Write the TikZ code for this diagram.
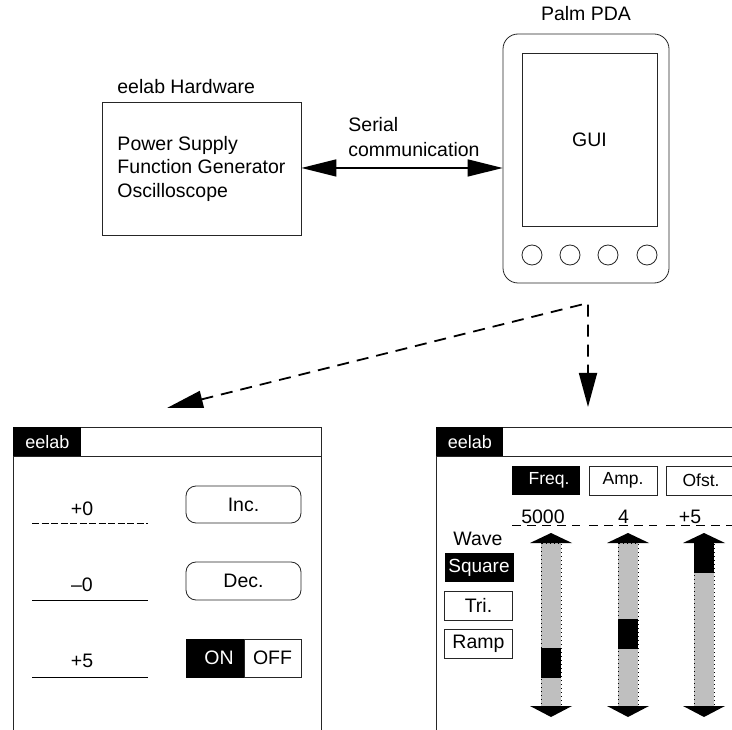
\documentclass[tikz,border=0pt]{standalone}
\usepackage{fontspec}
\setmainfont{Liberation Sans}
\usetikzlibrary{arrows.meta}
\begin{document}
\begin{tikzpicture}[x=1pt,y=-1pt, line width=0.8pt,
  ln/.style={draw=black!85, line width=0.8pt},
  txt/.style={font=\fontsize{19.5}{25}\selectfont, inner sep=0pt},
  box/.style={ln, inner sep=0pt, font=\fontsize{19.5}{23.5}\selectfont},
  blackbox/.style={fill=black, text=white, inner sep=0pt},
  tabfont/.style={font=\fontsize{17.5}{20}\selectfont},
  bigtip/.style={line width=1.6pt, {Triangle[length=35pt,width=17pt]}-{Triangle[length=35pt,width=17pt]}},
  dashtip/.style={line width=1.8pt, dash pattern=on 12pt off 8pt, {Triangle[length=36pt,width=17pt]}-{Triangle[length=34pt,width=18pt]}},
  valline/.style={line width=0.8pt, dash pattern=on 9pt off 6pt}
]
\clip (0,0) rectangle (732,730);
\fill[white] (0,0) rectangle (732,730);

% ---------- top: hardware and PDA ----------
\node[txt, anchor=west] (hwlbl) at (117,87) {eelab Hardware};
\node[box, minimum width=199pt, minimum height=133pt, align=left] (hw) at (201.5,168.5)
  {Power Supply\\Function Generator\\Oscilloscope};

\node[txt] (pdalbl) at (586,14) {Palm PDA};
\node[ln, rounded corners=15pt, minimum width=166pt, minimum height=249pt, inner sep=0pt] (pda) at (586,158.5) {};
\node[box, minimum width=135pt, minimum height=173pt] (gui) at (589.5,139.5) {GUI};
\foreach \i/\x in {1/532,2/570,3/608,4/647}
  \node[ln, circle, minimum size=20pt, inner sep=0pt] (btn\i) at (\x,255) {};

\draw[bigtip] (hw.east |- 0,168) coordinate (sL) -- (pda.west |- 0,168) coordinate (sR);
\node[txt, anchor=west, align=left] (serlbl) at (348,137.5) {Serial\\communication};

% ---------- dashed arrows ----------
\coordinate (split) at (588,303);
\coordinate (toL) at (167,408);
\coordinate (toR) at (588,407);
\draw[dashtip] (toL) -- (split) -- (toR);

% ---------- left panel ----------
\draw[ln] (13,730) -- (13,427) -- (321,427) -- (321,730);
\draw[ln] (13,456) -- (321,456);
\node[blackbox, minimum width=68pt, minimum height=29pt, anchor=north west, font=\fontsize{18}{20}\selectfont] (ttlL) at (13,427) {eelab};

\node[txt] (v1) at (82,509) {+0};
\draw[line width=0.8pt, dash pattern=on 7pt off 2.5pt] (32,523) -- (148,523);
\node[txt] (v2) at (82,585) {\textendash0};
\draw[line width=0.8pt] (32,600) -- (148,600);
\node[txt] (v3) at (82,661) {+5};
\draw[line width=0.8pt] (32,677) -- (148,677);

\node[box, rounded corners=10pt, minimum width=115pt, minimum height=37pt] (inc) at (243.5,504.5) {Inc.};
\node[box, rounded corners=10pt, minimum width=115pt, minimum height=38pt] (dec) at (243.5,581) {Dec.};
\node[blackbox, draw=black, minimum width=58pt, minimum height=38pt, font=\fontsize{19.5}{22}\selectfont] (on) at (215,658) {\hspace{8pt}ON};
\node[box, minimum width=57pt, minimum height=38pt] (off) at (272.5,658) {OFF};

% ---------- right panel ----------
\draw[ln] (436,730) -- (436,427) -- (740,427);
\draw[ln] (436,456) -- (740,456);
\node[blackbox, minimum width=67pt, minimum height=29pt, anchor=north west, font=\fontsize{18}{20}\selectfont] (ttlR) at (436,427) {eelab};

\node[blackbox, tabfont, minimum width=68pt, minimum height=29pt] (freq) at (546,480.5) {\hspace{6pt}Freq.};
\node[box, tabfont, minimum width=68pt, minimum height=29pt] (amp) at (623,480.5) {Amp.};
\node[box, tabfont, minimum width=70pt, minimum height=29pt] (ofst) at (701,480.5) {Ofst.};

\draw[valline] (512,525) -- (580,525);
\draw[valline] (589,525) -- (657,525);
\draw[valline] (666,525) -- (740,525);
\node[txt, fill=white, inner xsep=1pt] (f5000) at (543,517) {5000};
\node[txt, fill=white, inner xsep=1pt] (a4) at (623.5,517) {4};
\node[txt, fill=white, inner xsep=1pt] (o5) at (690,517) {+5};

\node[txt] (wave) at (478,539) {Wave};
\node[blackbox, minimum width=69pt, minimum height=29pt, font=\fontsize{19}{22}\selectfont] (square) at (479,567.5) {Square};
\node[box, minimum width=68pt, minimum height=29pt] (tri) at (478.5,605.5) {Tri.};
\node[box, minimum width=68pt, minimum height=29pt] (ramp) at (478.5,643.5) {Ramp};

\foreach \cx/\ta/\tb in {551/648/678, 628/619/649, 704/543/573} {
  \fill[gray!50] (\cx-10,543) rectangle (\cx+10,706);
  \draw[line width=0.8pt, dash pattern=on 1pt off 3pt] (\cx-10,543) rectangle (\cx+10,706);
  \fill[black] (\cx-10,\ta) rectangle (\cx+10,\tb);
  \fill[black] (\cx-21,543) -- (\cx,533) -- (\cx+21,543) -- cycle;
  \fill[black] (\cx-21,706) -- (\cx,717) -- (\cx+21,706) -- cycle;
}
\end{tikzpicture}
\end{document}
